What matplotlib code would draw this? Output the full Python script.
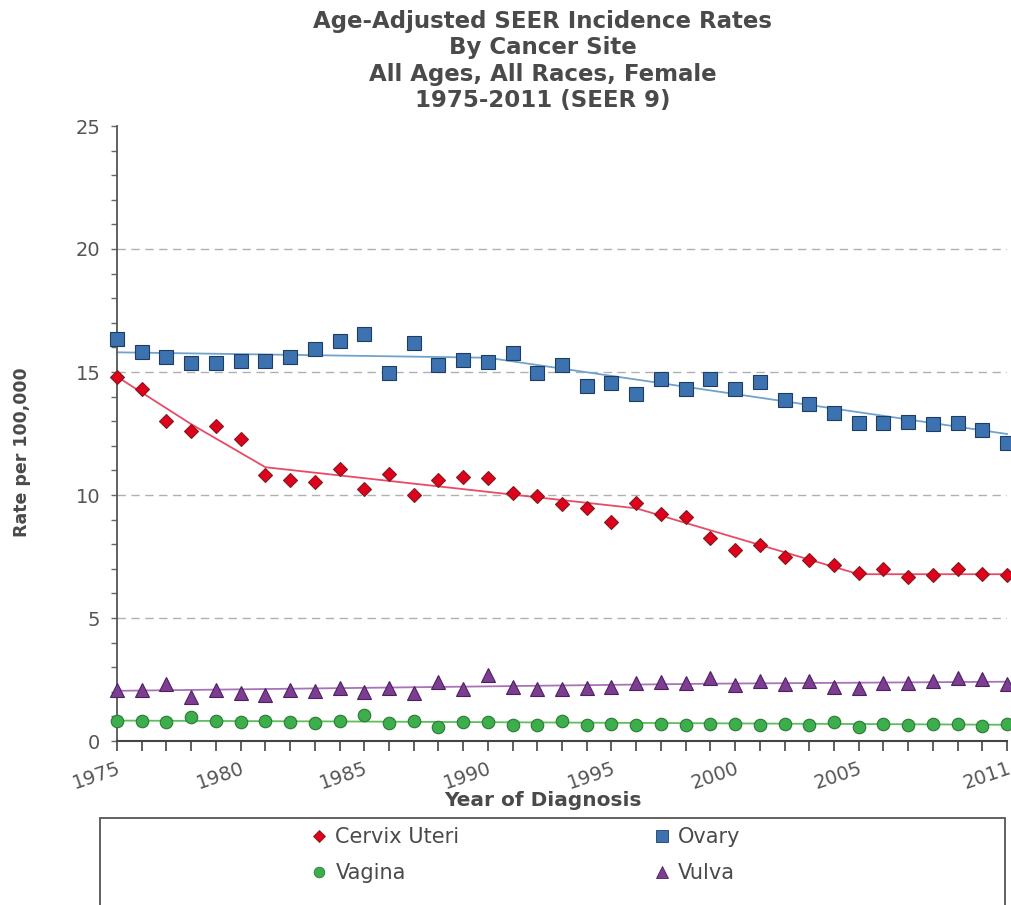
import numpy as np
import matplotlib.pyplot as plt
from matplotlib.patches import Rectangle
from matplotlib.lines import Line2D

# observed rates per 100,000, 1975-2011
years = np.arange(1975, 2012)

cervix = [14.81, 14.30, 13.02, 12.60, 12.80, 12.26, 10.80, 10.61, 10.52, 11.06,
          10.23, 10.85, 10.01, 10.61, 10.74, 10.69, 10.07, 9.96, 9.63, 9.46,
          8.91, 9.69, 9.23, 9.12, 8.24, 7.76, 7.97, 7.47, 7.36, 7.15,
          6.84, 6.98, 6.68, 6.73, 6.98, 6.79, 6.73]
ovary = [16.33, 15.80, 15.60, 15.38, 15.38, 15.43, 15.43, 15.62, 15.93, 16.27,
         16.54, 14.97, 16.17, 15.27, 15.49, 15.39, 15.76, 14.95, 15.28, 14.44,
         14.57, 14.11, 14.70, 14.31, 14.70, 14.30, 14.61, 13.86, 13.70, 13.32,
         12.91, 12.91, 12.98, 12.87, 12.91, 12.64, 12.10]
vagina = [0.83, 0.83, 0.79, 0.99, 0.83, 0.77, 0.83, 0.77, 0.72, 0.83,
          1.04, 0.74, 0.83, 0.58, 0.77, 0.77, 0.65, 0.65, 0.81, 0.65,
          0.68, 0.65, 0.69, 0.65, 0.69, 0.69, 0.65, 0.69, 0.65, 0.76,
          0.58, 0.68, 0.65, 0.69, 0.68, 0.61, 0.69]
vulva = [2.07, 2.07, 2.30, 1.80, 2.07, 1.94, 1.87, 2.07, 2.03, 2.14,
         1.98, 2.14, 1.94, 2.41, 2.10, 2.68, 2.21, 2.10, 2.10, 2.14,
         2.21, 2.34, 2.41, 2.37, 2.55, 2.28, 2.44, 2.32, 2.44, 2.21,
         2.14, 2.37, 2.34, 2.44, 2.55, 2.51, 2.32]

# fitted trend segments (joinpoints)
cervix_fit_x = [1975, 1978, 1981, 1996, 2005, 2011]
cervix_fit_y = [14.81, 12.88, 11.13, 9.46, 6.78, 6.78]
ovary_fit_x = [1975, 1990, 2011]
ovary_fit_y = [15.80, 15.58, 12.48]
vagina_fit_x = [1975, 1985, 2011]
vagina_fit_y = [0.83, 0.79, 0.66]
vulva_fit_x = [1975, 1999, 2011]
vulva_fit_y = [2.04, 2.33, 2.41]

xtick_pos = [1975, 1980, 1985, 1990, 1995, 2000, 2005, 2011]
ytick_pos = [0, 5, 10, 15, 20, 25]

txt = '#4a4a4a'
W, H = 1011, 905
fig = plt.figure(figsize=(W / 100, H / 100), dpi=100)
ax = fig.add_axes([117 / W, 1 - 741 / H, (1007 - 117) / W, (741 - 126) / H])

for y in [5, 10, 15, 20]:
    ax.axhline(y, color='#b0b0b0', lw=1.0, ls=(0, (6, 4)), zorder=0)

series = [
    ('Cervix Uteri', cervix, cervix_fit_x, cervix_fit_y, 'D', 7.5, '#e0001b', '#7a2020', '#ea4a66'),
    ('Ovary', ovary, ovary_fit_x, ovary_fit_y, 's', 10.5, '#3d72b0', '#1e3d63', '#6fa3cc'),
    ('Vagina', vagina, vagina_fit_x, vagina_fit_y, 'o', 9, '#3cae4c', '#2b7a36', '#5cbf5c'),
    ('Vulva', vulva, vulva_fit_x, vulva_fit_y, '^', 10, '#7d3d92', '#4d2060', '#a873b8'),
]
handles = {}
for name, vals, fx, fy, mk, ms, fc, ec, lc in series:
    ax.plot(fx, fy, color=lc, lw=1.3, zorder=2, clip_on=False)
    ax.plot(years, vals, ls='none', marker=mk, ms=ms, mfc=fc, mec=ec, mew=0.8,
            zorder=3, clip_on=False)
    handles[name] = Line2D([], [], ls='none', marker=mk, ms=ms * 0.85, mfc=fc, mec=ec, mew=0.6)

ax.set_xlim(1975, 2011)
ax.set_ylim(0, 25)
ax.set_xticks(xtick_pos)
ax.set_xticks(years, minor=True)
ax.set_yticks(ytick_pos)
ax.set_yticks(np.arange(0, 26), minor=True)
ax.set_xticklabels([str(v) for v in xtick_pos], rotation=19, ha='right',
                   rotation_mode='anchor', fontsize=14, color='#555555')
ax.set_yticklabels([str(v) for v in ytick_pos], fontsize=14, color='#555555')
ax.tick_params(axis='x', which='both', direction='out', length=7, width=1.2,
               color='#444444', pad=6)
ax.tick_params(axis='y', which='both', direction='out', length=4, width=1,
               color='#666666', pad=8)

for s in ['top', 'right']:
    ax.spines[s].set_visible(False)
ax.spines['left'].set_color('#555555')
ax.spines['bottom'].set_color('#444444')
ax.spines['left'].set_linewidth(1.3)
ax.spines['bottom'].set_linewidth(1.5)

ax.set_xlabel('Year of Diagnosis', fontsize=14.5, fontweight='bold', color=txt)
ax.xaxis.set_label_coords((543 - 117) / 890, -59 / 615)
ax.xaxis.label.set_va('center')
ax.set_ylabel('Rate per 100,000', fontsize=12.5, fontweight='bold', color=txt)
ax.yaxis.set_label_coords((22 - 117) / 890, (741 - 452) / 615)
ax.yaxis.label.set_va('center')

fig.text(0.537, 1 - 61 / H, 'Age-Adjusted SEER Incidence Rates\nBy Cancer Site\n'
         'All Ages, All Races, Female\n1975-2011 (SEER 9)',
         ha='center', va='center', fontsize=16.5, fontweight='bold', color=txt,
         linespacing=1.18)

# legend box (cut off at the bottom of the image)
fig.patches.append(Rectangle((100 / W, -0.05), (1005 - 100) / W, 0.05 + (905 - 818) / H,
                             transform=fig.transFigure, fill=False,
                             edgecolor='#555555', lw=1.3))
order = ['Cervix Uteri', 'Vagina', 'Ovary', 'Vulva']
fig.legend([handles[k] for k in order], order, ncol=2, frameon=False,
           loc='center left', bbox_to_anchor=(302 / W, 1 - 855 / H),
           fontsize=15, labelcolor=txt, handlelength=0.8, handletextpad=0.4,
           columnspacing=9.3, labelspacing=0.75, borderaxespad=0)

fig.savefig('out.png', dpi=100)
